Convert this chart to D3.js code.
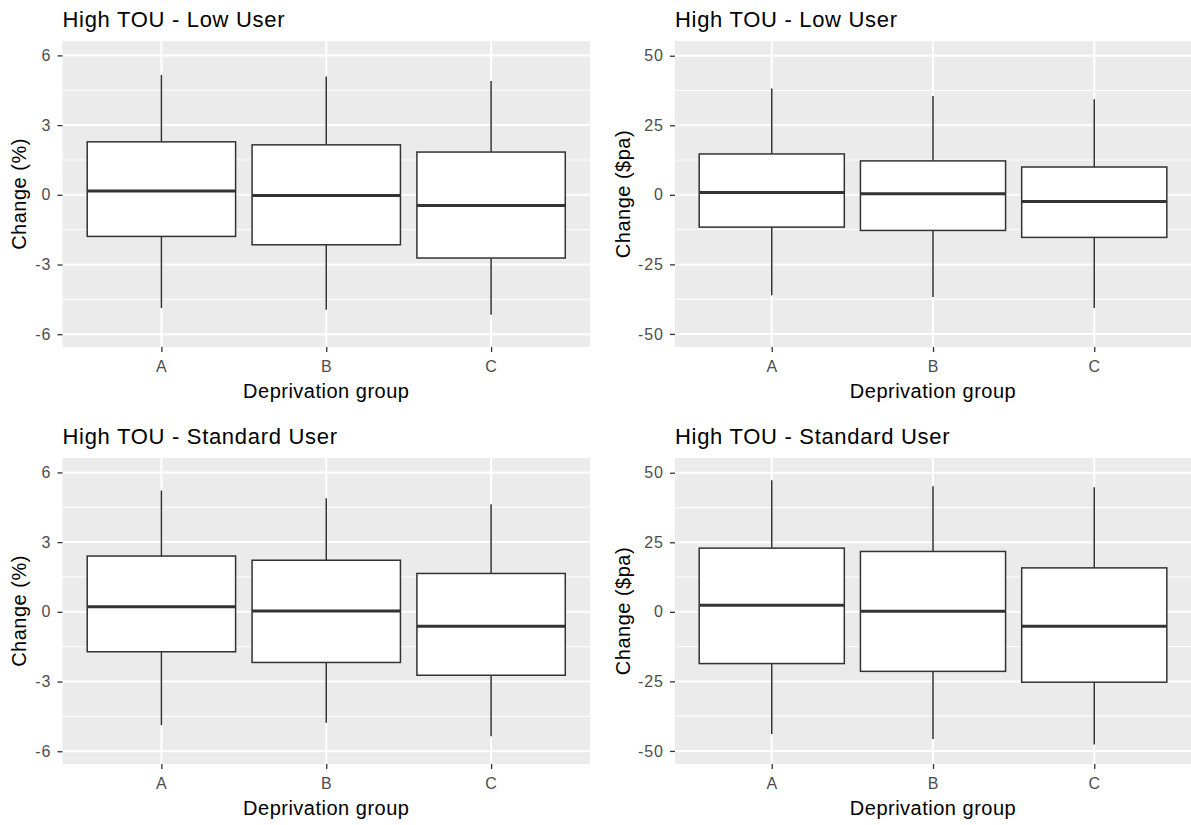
<!DOCTYPE html>
<html>
<head>
<meta charset="utf-8">
<script src="https://cdn.jsdelivr.net/npm/d3@7"></script>
<style>
  body { margin: 0; background: #fff; }
  text { font-family: "Liberation Sans", Arial, sans-serif; }
</style>
</head>
<body>
<svg id="chart" width="1191" height="825"></svg>
<script>
'use strict';

// Categories and tick labels
var GROUPS = ['A', 'B', 'C'];
var TITLES = ['High TOU - Low User', 'High TOU - Standard User'];
var Y_TITLES = ['Change (%)', 'Change ($pa)'];
var X_TITLE = 'Deprivation group';

var PCT_TICKS = [-6, -3, 0, 3, 6];
var PCT_MINOR = [-4.5, -1.5, 1.5, 4.5];
var PCT_DOMAIN = [-6.55, 6.62];
var PA_TICKS = [-50, -25, 0, 25, 50];
var PA_MINOR = [-37.5, -12.5, 12.5, 37.5];
var PA_DOMAIN = [-54.7, 55.3];

// Five-number summaries per group: [lower whisker, q1, median, q3, upper whisker]
var LOW_PCT = [
  [-4.87, -1.79, 0.16, 2.28, 5.16],
  [-4.95, -2.15, -0.03, 2.15, 5.09],
  [-5.16, -2.72, -0.46, 1.84, 4.90]
];
var LOW_PA = [
  [-36.1, -11.6, 0.8, 14.7, 38.2],
  [-36.7, -12.8, 0.36, 12.2, 35.5],
  [-40.7, -15.3, -2.4, 10.0, 34.4]
];
var STD_PCT = [
  [-4.88, -1.72, 0.22, 2.40, 5.22],
  [-4.78, -2.18, 0.03, 2.22, 4.89],
  [-5.36, -2.73, -0.62, 1.65, 4.63]
];
var STD_PA = [
  [-43.9, -18.6, 2.4, 22.9, 47.3],
  [-45.7, -21.4, 0.25, 21.7, 45.1],
  [-47.7, -25.3, -5.2, 15.8, 44.8]
];

// Layout of the 2x2 grid
var COLS = [{ left: 62.5, right: 590, yTitleX: 25.5 }, { left: 675, right: 1191, yTitleX: 629.5 }];
var ROWS = [{ top: 41, bottom: 347 }, { top: 458, bottom: 764 }];

var DARK = '#333333';
var svg = d3.select('#chart');

var panels = [
  { row: 0, col: 0, title: TITLES[0], yTitle: Y_TITLES[0], data: LOW_PCT, ticks: PCT_TICKS, minor: PCT_MINOR, domain: PCT_DOMAIN },
  { row: 0, col: 1, title: TITLES[0], yTitle: Y_TITLES[1], data: LOW_PA, ticks: PA_TICKS, minor: PA_MINOR, domain: PA_DOMAIN },
  { row: 1, col: 0, title: TITLES[1], yTitle: Y_TITLES[0], data: STD_PCT, ticks: PCT_TICKS, minor: PCT_MINOR, domain: PCT_DOMAIN },
  { row: 1, col: 1, title: TITLES[1], yTitle: Y_TITLES[1], data: STD_PA, ticks: PA_TICKS, minor: PA_MINOR, domain: PA_DOMAIN }
];

panels.forEach(drawPanel);

function drawPanel(p) {
  var c = COLS[p.col], r = ROWS[p.row];
  var x = d3.scalePoint().domain(GROUPS).range([c.left, c.right]).padding(0.6);
  var y = d3.scaleLinear().domain(p.domain).range([r.bottom, r.top]);
  var boxW = x.step() * 0.9;
  var g = svg.append('g');

  // panel background
  g.append('rect')
    .attr('x', c.left).attr('y', r.top)
    .attr('width', c.right - c.left).attr('height', r.bottom - r.top)
    .attr('fill', '#EBEBEB');

  // grid
  g.selectAll('line.minor').data(p.minor).enter().append('line')
    .attr('x1', c.left).attr('x2', c.right)
    .attr('y1', function(d) { return y(d); }).attr('y2', function(d) { return y(d); })
    .attr('stroke', '#fff').attr('stroke-width', 1);
  g.selectAll('line.major').data(p.ticks).enter().append('line')
    .attr('x1', c.left).attr('x2', c.right)
    .attr('y1', function(d) { return y(d); }).attr('y2', function(d) { return y(d); })
    .attr('stroke', '#fff').attr('stroke-width', 2);
  g.selectAll('line.vgrid').data(GROUPS).enter().append('line')
    .attr('x1', function(d) { return x(d); }).attr('x2', function(d) { return x(d); })
    .attr('y1', r.top).attr('y2', r.bottom)
    .attr('stroke', '#fff').attr('stroke-width', 2);

  // boxplots
  var boxes = g.selectAll('g.box').data(p.data).enter().append('g');
  boxes.append('line')
    .attr('x1', function(d, i) { return x(GROUPS[i]); })
    .attr('x2', function(d, i) { return x(GROUPS[i]); })
    .attr('y1', function(d) { return y(d[3]); })
    .attr('y2', function(d) { return y(d[4]); })
    .attr('stroke', DARK).attr('stroke-width', 1.5);
  boxes.append('line')
    .attr('x1', function(d, i) { return x(GROUPS[i]); })
    .attr('x2', function(d, i) { return x(GROUPS[i]); })
    .attr('y1', function(d) { return y(d[0]); })
    .attr('y2', function(d) { return y(d[1]); })
    .attr('stroke', DARK).attr('stroke-width', 1.5);
  boxes.append('rect')
    .attr('x', function(d, i) { return x(GROUPS[i]) - boxW / 2; })
    .attr('width', boxW)
    .attr('y', function(d) { return y(d[3]); })
    .attr('height', function(d) { return y(d[1]) - y(d[3]); })
    .attr('fill', '#fff').attr('stroke', DARK).attr('stroke-width', 1.5);
  boxes.append('line')
    .attr('x1', function(d, i) { return x(GROUPS[i]) - boxW / 2; })
    .attr('x2', function(d, i) { return x(GROUPS[i]) + boxW / 2; })
    .attr('y1', function(d) { return y(d[2]); })
    .attr('y2', function(d) { return y(d[2]); })
    .attr('stroke', DARK).attr('stroke-width', 3);

  // axes (plain hyphen for negatives, as in the original)
  var yAxis = g.append('g')
    .attr('transform', 'translate(' + c.left + ',0)')
    .call(d3.axisLeft(y).tickValues(p.ticks).tickFormat(function(d) { return String(d); })
      .tickSize(5).tickPadding(6));
  var xAxis = g.append('g')
    .attr('transform', 'translate(0,' + r.bottom + ')')
    .call(d3.axisBottom(x).tickSize(5).tickPadding(9));
  [yAxis, xAxis].forEach(function(a) {
    a.attr('font-size', null);
    a.select('.domain').remove();
    a.selectAll('.tick line').attr('stroke', DARK).attr('stroke-width', 1.3);
    a.selectAll('.tick text')
      .attr('fill', '#4D4D4D')
      .attr('font-size', 16)
      .style('letter-spacing', '1px');
  });

  // titles
  g.append('text')
    .attr('x', c.left).attr('y', r.top - 14)
    .style('font-size', '22px').style('letter-spacing', '0.7px')
    .attr('fill', '#000')
    .text(p.title);
  g.append('text')
    .attr('x', (c.left + c.right) / 2).attr('y', r.bottom + 51)
    .attr('text-anchor', 'middle')
    .style('font-size', '20px').style('letter-spacing', '0.5px')
    .attr('fill', '#000')
    .text(X_TITLE);
  g.append('text')
    .attr('transform', 'translate(' + c.yTitleX + ',' + (r.top + r.bottom) / 2 + ') rotate(-90)')
    .attr('text-anchor', 'middle')
    .style('font-size', '20px').style('letter-spacing', '0.5px')
    .attr('fill', '#000')
    .text(p.yTitle);
}
</script>
</body>
</html>
